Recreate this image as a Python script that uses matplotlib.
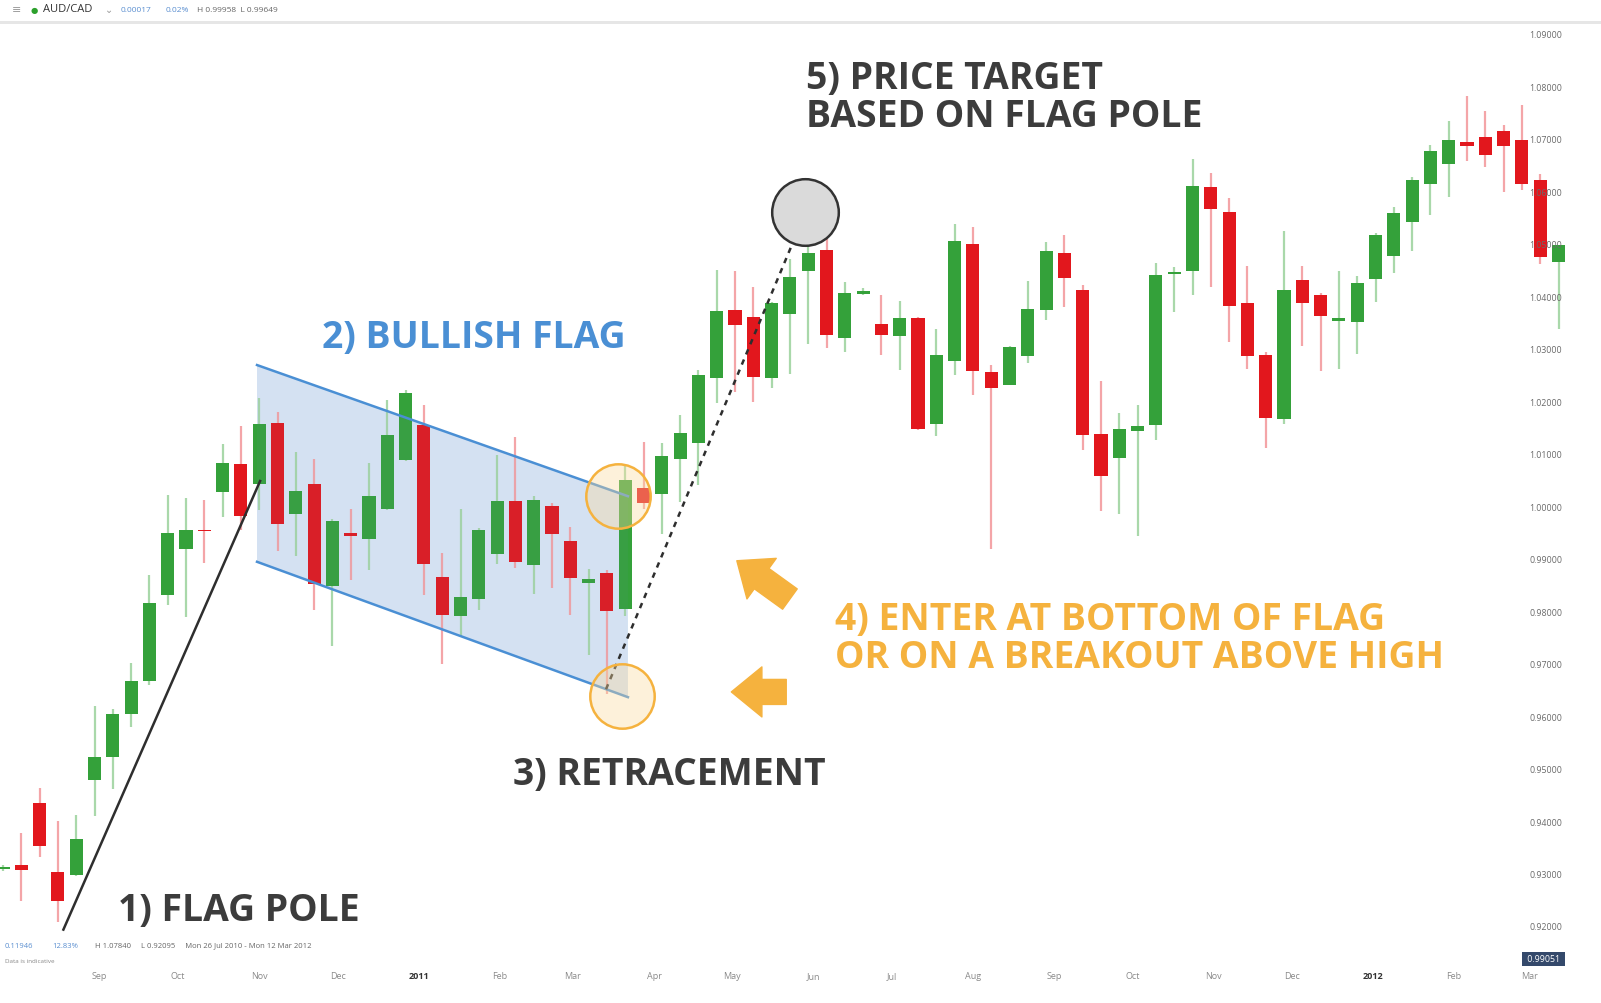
import datetime as dt
import matplotlib.pyplot as plt
from matplotlib.patches import Polygon, Rectangle

# ---- dados: candles semanais AUD/CAD (26 jul 2010 - 12 mar 2012) ----
START = dt.date(2010, 7, 26)

opens = [0.9310, 0.9318, 0.9436, 0.9305, 0.9299, 0.9480, 0.9524, 0.9606, 0.9669, 0.9833,
         0.9920, 0.9957, 1.0029, 1.0082, 1.0044, 1.0161, 0.9987, 1.0044, 0.9850, 0.9951,
         0.9939, 0.9997, 1.0090, 1.0157, 0.9867, 0.9793, 0.9825, 0.9911, 1.0012, 0.9890,
         1.0002, 0.9936, 0.9856, 0.9875, 0.9806, 1.0037, 1.0025, 1.0092, 1.0122, 1.0246,
         1.0376, 1.0363, 1.0246, 1.0368, 1.0450, 1.0490, 1.0322, 1.0406, 1.0349, 1.0326,
         1.0361, 1.0159, 1.0279, 1.0502, 1.0258, 1.0233, 1.0288, 1.0376, 1.0485, 1.0414,
         1.0140, 1.0094, 1.0145, 1.0157, 1.0445, 1.0450, 1.0610, 1.0563, 1.0389, 1.0290,
         1.0168, 1.0433, 1.0404, 1.0355, 1.0353, 1.0435, 1.0479, 1.0544, 1.0616, 1.0654,
         1.0696, 1.0706, 1.0717, 1.0700, 1.0624, 1.0467]
highs = [0.9318, 0.9379, 0.9465, 0.9402, 0.9413, 0.9621, 0.9615, 0.9703, 0.9871, 1.0023,
         1.0018, 1.0014, 1.0120, 1.0155, 1.0208, 1.0181, 1.0105, 1.0092, 0.9977, 0.9997,
         1.0084, 1.0204, 1.0223, 1.0195, 0.9913, 0.9997, 0.9961, 1.0100, 1.0134, 1.0021,
         1.0008, 0.9962, 0.9882, 0.9880, 1.0080, 1.0124, 1.0122, 1.0176, 1.0262, 1.0452,
         1.0450, 1.0420, 1.0391, 1.0473, 1.0521, 1.0511, 1.0429, 1.0418, 1.0404, 1.0393,
         1.0363, 1.0340, 1.0540, 1.0534, 1.0271, 1.0307, 1.0431, 1.0505, 1.0519, 1.0424,
         1.0241, 1.0180, 1.0195, 1.0465, 1.0458, 1.0664, 1.0637, 1.0589, 1.0460, 1.0296,
         1.0526, 1.0460, 1.0408, 1.0450, 1.0441, 1.0523, 1.0572, 1.0629, 1.0690, 1.0736,
         1.0784, 1.0755, 1.0728, 1.0767, 1.0635, 1.0500]
lows = [0.9307, 0.9249, 0.9333, 0.9210, 0.9297, 0.9411, 0.9463, 0.9581, 0.9661, 0.9814,
        0.9791, 0.9894, 0.9981, 0.9957, 0.9995, 0.9917, 0.9907, 0.9804, 0.9735, 0.9861,
        0.9880, 0.9995, 1.0088, 0.9833, 0.9701, 0.9753, 0.9804, 0.9892, 0.9884, 0.9835,
        0.9846, 0.9795, 0.9718, 0.9644, 0.9793, 0.9997, 0.9949, 1.0010, 1.0042, 1.0199,
        1.0220, 1.0201, 1.0227, 1.0254, 1.0311, 1.0303, 1.0296, 1.0404, 1.0290, 1.0262,
        1.0147, 1.0136, 1.0252, 1.0214, 0.9920, 1.0233, 1.0275, 1.0357, 1.0382, 1.0109,
        0.9993, 0.9987, 0.9945, 1.0128, 1.0372, 1.0404, 1.0420, 1.0315, 1.0263, 1.0113,
        1.0159, 1.0307, 1.0260, 1.0263, 1.0292, 1.0391, 1.0446, 1.0488, 1.0557, 1.0591,
        1.0660, 1.0648, 1.0601, 1.0605, 1.0464, 1.0340]
closes = [0.9314, 0.9309, 0.9354, 0.9249, 0.9368, 0.9524, 0.9606, 0.9669, 0.9817, 0.9951,
          0.9957, 0.9954, 1.0084, 0.9983, 1.0159, 0.9968, 1.0031, 0.9854, 0.9974, 0.9945,
          1.0021, 1.0138, 1.0218, 0.9892, 0.9795, 0.9829, 0.9957, 1.0012, 0.9896, 1.0014,
          0.9949, 0.9865, 0.9863, 0.9802, 1.0052, 1.0008, 1.0098, 1.0141, 1.0252, 1.0374,
          1.0347, 1.0248, 1.0389, 1.0439, 1.0485, 1.0328, 1.0408, 1.0412, 1.0328, 1.0361,
          1.0149, 1.0290, 1.0507, 1.0260, 1.0227, 1.0305, 1.0378, 1.0488, 1.0437, 1.0138,
          1.0060, 1.0149, 1.0155, 1.0443, 1.0448, 1.0612, 1.0568, 1.0383, 1.0288, 1.0170,
          1.0414, 1.0389, 1.0364, 1.0361, 1.0427, 1.0519, 1.0561, 1.0624, 1.0679, 1.0700,
          1.0688, 1.0671, 1.0688, 1.0616, 1.0477, 1.0500]

price_ticks = [0.92, 0.93, 0.94, 0.95, 0.96, 0.97, 0.98, 0.99, 1.00, 1.01, 1.02,
               1.03, 1.04, 1.05, 1.06, 1.07, 1.08, 1.09]
month_dates = [dt.date(2010, 9, 1), dt.date(2010, 10, 1), dt.date(2010, 11, 1),
               dt.date(2010, 12, 1), dt.date(2011, 1, 1), dt.date(2011, 2, 1),
               dt.date(2011, 3, 1), dt.date(2011, 4, 1), dt.date(2011, 5, 1),
               dt.date(2011, 6, 1), dt.date(2011, 7, 1), dt.date(2011, 8, 1),
               dt.date(2011, 9, 1), dt.date(2011, 10, 1), dt.date(2011, 11, 1),
               dt.date(2011, 12, 1), dt.date(2012, 1, 1), dt.date(2012, 2, 1),
               dt.date(2012, 3, 1)]
month_labels = ["Sep", "Oct", "Nov", "Dec", "2011", "Feb", "Mar", "Apr", "May", "Jun",
                "Jul", "Aug", "Sep", "Oct", "Nov", "Dec", "2012", "Feb", "Mar"]

# anotacoes (x = indice da semana, y = preco)
pole_line = [(3.3, 0.9195), (14.05, 1.0050)]
flag_upper = [(13.88, 1.0271), (34.15, 1.0021)]
flag_lower = [(13.88, 0.9896), (34.15, 0.9638)]
target_line = [(32.95, 0.9653), (43.17, 1.0505)]
breakout_pt = (33.6, 1.0021)
retrace_pt = (33.8, 0.9640)
target_pt = (43.8, 1.0563)
arrow_up = [(43.0, 0.9825), (40.1, 0.9898)]      # (cauda, ponta)
arrow_left = [(42.8, 0.9648), (39.8, 0.9648)]

# ---- geometria da figura ----
W, H = 1601, 1004
DX = 18.3                      # px por semana
PX0 = 3                        # px do primeiro candle
KP = 0.01 / 52.47              # preco por px
Y109 = 36                      # px da linha 1.09

GREEN, RED = "#34a13a", "#e2171d"
GREEN_W, RED_W = "#a9d8aa", "#f4a5a8"
DARK, BLUE, ORANGE = "#3c3c3c", "#4a8fd4", "#f5b23e"
FONT = "Open Sans"


def fx(x):
    return x / W


def fy(y):
    return 1 - y / H


fig = plt.figure(figsize=(W / 100, H / 100), dpi=100)
ax = fig.add_axes([0, 0, 1, 1])
ax.set_xlim(-PX0 / DX, (W - PX0) / DX)
ax.set_ylim(1.09 - (H - Y109) * KP, 1.09 + Y109 * KP)
ax.axis("off")

# candles
for i, (o, h, l, c) in enumerate(zip(opens, highs, lows, closes)):
    up = c >= o
    ax.vlines(i, l, h, color=GREEN_W if up else RED_W, lw=1.6, zorder=2)
    bot, hgt = min(o, c), max(abs(c - o), 0.00035)
    ax.add_patch(Rectangle((i - 0.36, bot), 0.72, hgt, facecolor=GREEN if up else RED,
                           edgecolor="none", zorder=3))

# bandeira: fundo sob os candles + veu azul bem leve por cima
(x0, u0), (x1, u1) = flag_upper
(_, l0), (_, l1) = flag_lower
flag_xy = [(x0, u0), (x1, u1), (x1, l1), (x0, l0)]
ax.add_patch(Polygon(flag_xy, closed=True, facecolor="#dce8f6", edgecolor="none", zorder=1))
ax.add_patch(Polygon(flag_xy, closed=True, facecolor="#6d8fc4", alpha=0.07,
                     edgecolor="none", zorder=4))
ax.plot(*zip(*flag_upper), color=BLUE, lw=1.8, zorder=5)
ax.plot(*zip(*flag_lower), color=BLUE, lw=1.8, zorder=5)

# mastro e alvo
ax.plot(*zip(*pole_line), color="#2e2e2e", lw=1.8, zorder=5)
ax.plot(*zip(*target_line), color="#2e2e2e", lw=1.8, ls=(0, (2.2, 2.2)), zorder=5)

for pt in (breakout_pt, retrace_pt):
    ax.scatter(*pt, s=2150, facecolor=(0.98, 0.86, 0.62, 0.38), edgecolor=ORANGE,
               lw=1.8, zorder=6)
ax.scatter(*target_pt, s=2300, facecolor="#dadada", edgecolor="#333333", lw=1.8, zorder=6)

for tail, head in (arrow_up, arrow_left):
    ax.annotate("", xy=head, xytext=tail,
                arrowprops=dict(arrowstyle="simple,head_width=1.8,head_length=1.1,tail_width=0.9",
                                color=ORANGE, shrinkA=0, shrinkB=0, mutation_scale=20),
                zorder=6)

# eixo de precos (dentro da area, a direita)
x_lab = (1562 - PX0) / DX
for p in price_ticks:
    ax.text(x_lab, p, f"{p:.5f}", ha="right", va="center", fontsize=6.3,
            color="#6a6a6a", family=FONT, zorder=7)
ax.text(x_lab, 1.09 - (960 - Y109) * KP, " 0.99051 ", ha="right", va="center",
        fontsize=6.3, color="white", family=FONT, zorder=8,
        bbox=dict(boxstyle="square,pad=0.3", facecolor="#34496b", edgecolor="none"))

# meses
for d, lab in zip(month_dates, month_labels):
    xi = (d - START).days / 7
    bold = lab.isdigit()
    ax.text(xi, 1.09 - (977 - Y109) * KP, lab, ha="center", va="center", fontsize=6.5,
            color="#333333" if bold else "#8a8a8a", fontweight="bold" if bold else "normal",
            family=FONT)

# titulos das etapas
kw = dict(family=FONT, fontweight="bold", fontsize=26.8, va="center", ha="left")
fig.text(fx(118), fy(911), "1) FLAG POLE", color=DARK, **kw)
fig.text(fx(322), fy(338), "2) BULLISH FLAG", color=BLUE, **kw)
fig.text(fx(513), fy(775), "3) RETRACEMENT", color=DARK, **kw)
fig.text(fx(835), fy(639), "4) ENTER AT BOTTOM OF FLAG\nOR ON A BREAKOUT ABOVE HIGH",
         color=ORANGE, linespacing=0.98, **kw)
fig.text(fx(806), fy(98), "5) PRICE TARGET\nBASED ON FLAG POLE", color=DARK,
         linespacing=0.98, **kw)

# cabecalho
fig.patches.append(Rectangle((0, fy(25)), 1, 3 / H, transform=fig.transFigure,
                             facecolor="#e6e6e6", edgecolor="none"))
fig.text(fx(12), fy(10), "≡", fontsize=8, color="#9a9a9a", va="center", family="DejaVu Sans")
fig.text(fx(31), fy(10), "●", fontsize=6, color="#2ca02c", va="center", family="DejaVu Sans")
fig.text(fx(43), fy(10), "AUD/CAD", fontsize=8, color="#333333", va="center", family=FONT)
fig.text(fx(105), fy(10), "⌄", fontsize=7, color="#999999", va="center", family="DejaVu Sans")
fig.text(fx(121), fy(10), "0.00017", fontsize=6, color="#5b8fd0", va="center", family=FONT)
fig.text(fx(166), fy(10), "0.02%", fontsize=6, color="#5b8fd0", va="center", family=FONT)
fig.text(fx(197), fy(10), "H 0.99958  L 0.99649", fontsize=6, color="#666666",
         va="center", family=FONT)

# rodape com estatisticas
fig.text(fx(5), fy(946), "0.11946", fontsize=5.5, color="#5b8fd0", va="center", family=FONT)
fig.text(fx(52), fy(946), "12.83%", fontsize=5.5, color="#5b8fd0", va="center", family=FONT)
fig.text(fx(95), fy(946), "H 1.07840     L 0.92095     Mon 26 Jul 2010 - Mon 12 Mar 2012",
         fontsize=5.5, color="#666666", va="center", family=FONT)
fig.text(fx(5), fy(962), "Data is indicative", fontsize=4.5, color="#888888",
         va="center", family=FONT)

fig.savefig("out.png", dpi=100)
